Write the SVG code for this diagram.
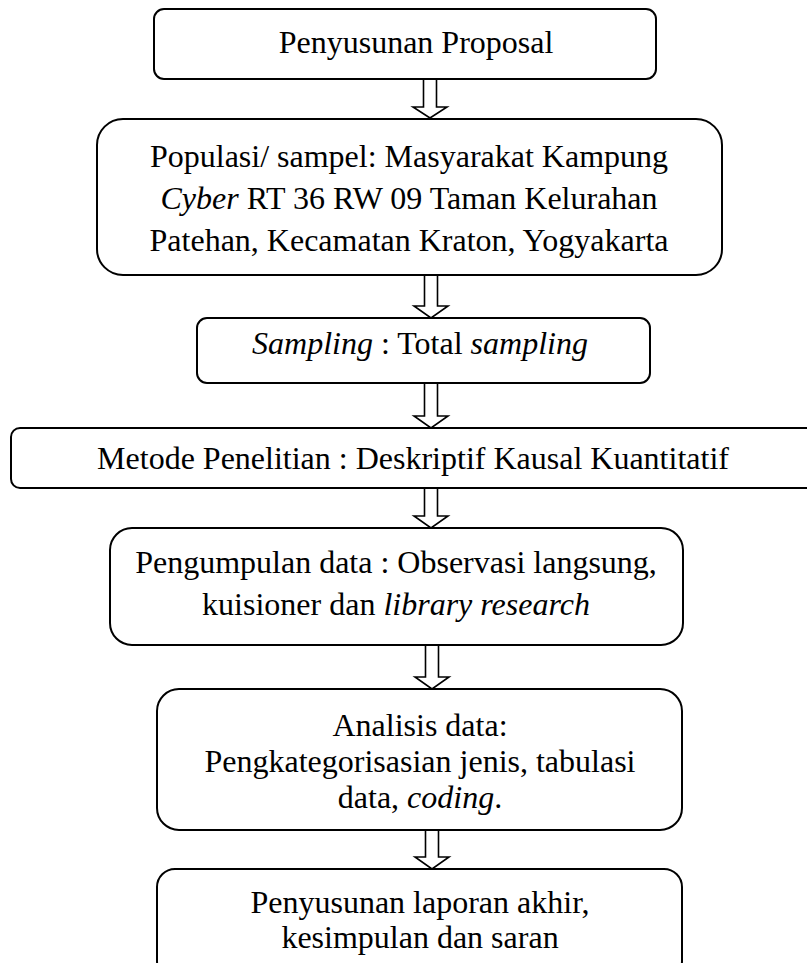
<svg xmlns="http://www.w3.org/2000/svg" width="807" height="963" viewBox="0 0 807 963">
<style>
.box{fill:#fff;stroke:#000;stroke-width:2}
.arr{fill:#fff;stroke:#000;stroke-width:1.6;stroke-linejoin:miter}
text{font-family:"Liberation Serif","Times New Roman",serif;font-size:32px;fill:#000;text-anchor:middle}
.i{font-style:italic}
</style>
<rect width="807" height="963" fill="#fff"/>
<g id="connectors">
<polygon class="arr" points="423.5,79 436.5,79 436.5,107 447,107 430,118 413,107 423.5,107"/>
<polygon class="arr" points="424.5,275 437.5,275 437.5,306 448,306 431,318 414,306 424.5,306"/>
<polygon class="arr" points="424.5,383 437.5,383 437.5,416 448,416 431,428 414,416 424.5,416"/>
<polygon class="arr" points="424.5,488 437.5,488 437.5,516 448,516 431,528 414,516 424.5,516"/>
<polygon class="arr" points="425.5,645 438.5,645 438.5,677 449,677 432,689 415,677 425.5,677"/>
<polygon class="arr" points="425.5,830 438.5,830 438.5,857 449,857 432,869 415,857 425.5,857"/>
</g>
<g id="n1">
<rect class="box" x="154" y="9" width="502" height="70" rx="10"/>
<text x="416" y="53">Penyusunan Proposal</text>
</g>
<g id="n2">
<rect class="box" x="97" y="119" width="625" height="156" rx="26"/>
<text x="409" y="167">Populasi/ sampel: Masyarakat Kampung</text>
<text x="409" y="209"><tspan class="i">Cyber</tspan> RT 36 RW 09 Taman Kelurahan</text>
<text x="409" y="251">Patehan, Kecamatan Kraton, Yogyakarta</text>
</g>
<g id="n3">
<rect class="box" x="197" y="318" width="453" height="65" rx="10"/>
<text x="420" y="354"><tspan class="i">Sampling</tspan> : Total <tspan class="i">sampling</tspan></text>
</g>
<g id="n4">
<rect class="box" x="11" y="428" width="810" height="60" rx="9"/>
<text x="413" y="469">Metode Penelitian : Deskriptif Kausal Kuantitatif</text>
</g>
<g id="n5">
<rect class="box" x="110" y="528" width="573" height="117" rx="22"/>
<text x="396" y="573">Pengumpulan data : Observasi langsung,</text>
<text x="396" y="615">kuisioner dan <tspan class="i">library research</tspan></text>
</g>
<g id="n6">
<rect class="box" x="157" y="689" width="525" height="141" rx="22"/>
<text x="420" y="736">Analisis data:</text>
<text x="420" y="772">Pengkategorisasian jenis, tabulasi</text>
<text x="420" y="808">data, <tspan class="i">coding</tspan>.</text>
</g>
<g id="n7">
<rect class="box" x="157" y="869" width="525" height="110" rx="18"/>
<text x="420" y="913">Penyusunan laporan akhir,</text>
<text x="420" y="948">kesimpulan dan saran</text>
</g>
</svg>
